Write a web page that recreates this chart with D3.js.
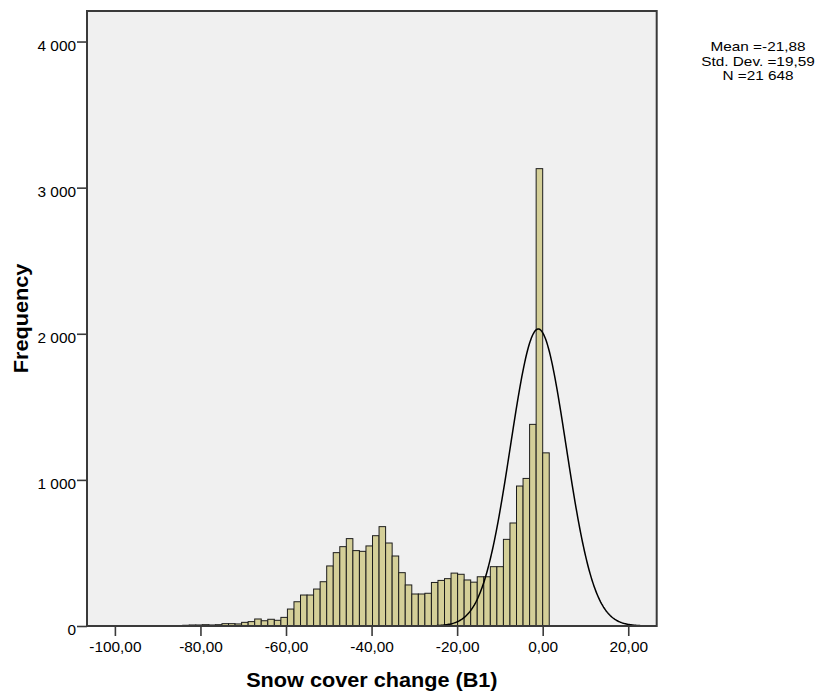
<!DOCTYPE html>
<html>
<head>
<meta charset="utf-8">
<script src="https://cdn.jsdelivr.net/npm/d3@7"></script>
<style>
  html, body { margin: 0; padding: 0; background: #ffffff; }
  svg { display: block; }
  text { font-family: "Liberation Sans", Arial, sans-serif; fill: #000; }
</style>
</head>
<body>
<svg id="chart" width="820" height="698"></svg>
<script>
// Histogram of snow cover change with a fitted normal curve.

// Bin frequencies, left to right (each bin is binWidth wide, starting at binStart)
const binStart = -96.39;
const binWidth = 1.53;
const frequencies = [
  2, 0, 0, 1, 1, 1, 2, 2, 5, 7, 7, 9, 7, 9, 16, 16,
  14, 25, 30, 48, 36, 46, 39, 59, 116, 166, 212, 212, 253, 303, 411, 502,
  543, 598, 516, 511, 548, 618, 680, 568, 479, 365, 281, 219, 219, 224, 298, 312,
  324, 362, 354, 315, 300, 337, 337, 406, 406, 593, 705, 958, 1010, 1380, 3130, 1185
];

// Axis ticks
const xTickValues = [-100, -80, -60, -40, -20, 0, 20];
const yTickValues = [0, 1000, 2000, 3000, 4000];

// Summary statistics shown at the top right
const statLines = ["Mean =-21,88", "Std. Dev. =19,59", "N =21 648"];

// Normal curve overlay
const sampleSize = 21648;
const curveMean = -1.03;
const curveSd = 6.5;

// Axis titles
const xTitle = "Snow cover change (B1)";
const yTitle = "Frequency";

// ---------------------------------------------------------------------------
const plot = { left: 87, top: 11, right: 656.7, bottom: 626 };
const stretch = 1.1; // horizontal widening of the lettering

const locale = d3.formatLocale({ decimal: ",", thousands: " ", grouping: [3], currency: ["", ""], minus: "-" });
const fmtX = locale.format(".2f");
const fmtY = locale.format(",");

const svg = d3.select("#chart");

const x = d3.scaleLinear().domain([-106.52, 26.65]).range([plot.left, plot.right]);
const y = d3.scaleLinear().domain([0, 4209]).range([plot.bottom, plot.top]);

// plot background
svg.append("rect")
  .attr("x", plot.left).attr("y", plot.top)
  .attr("width", plot.right - plot.left).attr("height", plot.bottom - plot.top)
  .attr("fill", "#f0f0f0");

// bars
const bins = frequencies.map((v, i) => ({
  x0: binStart + i * binWidth,
  x1: binStart + (i + 1) * binWidth,
  v
})).filter(d => d.v > 0);

svg.append("g").selectAll("rect")
  .data(bins)
  .join("rect")
  .attr("x", d => x(d.x0))
  .attr("width", d => x(d.x1) - x(d.x0))
  .attr("y", d => y(d.v))
  .attr("height", d => y(0) - y(d.v))
  .attr("fill", "#d4cf98")
  .attr("stroke", "#1c1c1c")
  .attr("stroke-width", 1);

// normal curve
const scaleFactor = sampleSize * binWidth / (curveSd * Math.sqrt(2 * Math.PI));
const curvePts = d3.range(0, 601).map(i => {
  const xv = x.domain()[0] + (x.domain()[1] - x.domain()[0]) * i / 600;
  const z = (xv - curveMean) / curveSd;
  return [xv, scaleFactor * Math.exp(-0.5 * z * z)];
});
svg.append("path")
  .datum(curvePts)
  .attr("fill", "none")
  .attr("stroke", "#000")
  .attr("stroke-width", 1.5)
  .attr("d", d3.line().x(d => x(d[0])).y(d => y(d[1])));

// frame
svg.append("rect")
  .attr("x", plot.left).attr("y", plot.top)
  .attr("width", plot.right - plot.left).attr("height", plot.bottom - plot.top)
  .attr("fill", "none")
  .attr("stroke", "#3a3a3a")
  .attr("stroke-width", 2);

// y axis
const yAxis = svg.append("g")
  .attr("transform", `translate(${plot.left},0)`)
  .call(d3.axisLeft(y).tickValues(yTickValues).tickSize(10).tickPadding(1)
    .tickFormat(d => fmtY(d)));
yAxis.select(".domain").remove();
yAxis.selectAll(".tick line").attr("stroke", "#3a3a3a").attr("stroke-width", 1.6);
yAxis.selectAll(".tick text")
  .attr("x", -11 / stretch)
  .attr("y", 8.5)
  .attr("dy", 0)
  .attr("transform", `scale(${stretch},1)`)
  .style("font-size", "14px")
  .style("font-family", "'Liberation Sans', Arial, sans-serif")
  .attr("fill", "#000");

// x axis
const xAxis = svg.append("g")
  .attr("transform", `translate(0,${plot.bottom})`)
  .call(d3.axisBottom(x).tickValues(xTickValues).tickSize(10)
    .tickFormat(d => fmtX(d)));
xAxis.select(".domain").remove();
xAxis.selectAll(".tick line").attr("stroke", "#3a3a3a").attr("stroke-width", 1.6);
xAxis.selectAll(".tick text")
  .attr("x", 0)
  .attr("y", 25.7)
  .attr("dy", 0)
  .attr("transform", `scale(${stretch},1)`)
  .style("font-size", "14px")
  .style("font-family", "'Liberation Sans', Arial, sans-serif")
  .attr("fill", "#000");

// axis titles
svg.append("text")
  .attr("transform", `translate(${(plot.left + plot.right) / 2},687.3) scale(${stretch},1)`)
  .attr("text-anchor", "middle")
  .style("font-size", "19.7px")
  .style("font-weight", "bold")
  .text(xTitle);

svg.append("text")
  .attr("transform", `translate(27.5,${(plot.top + plot.bottom) / 2}) rotate(-90) scale(${stretch},1)`)
  .attr("text-anchor", "middle")
  .style("font-size", "19.7px")
  .style("font-weight", "bold")
  .text(yTitle);

// statistics block
svg.append("g").selectAll("text")
  .data(statLines)
  .join("text")
  .attr("transform", (d, i) => `translate(758,${51 + i * 14.5}) scale(1.18,1)`)
  .attr("text-anchor", "middle")
  .style("font-size", "13px")
  .text(d => d);
</script>
</body>
</html>
